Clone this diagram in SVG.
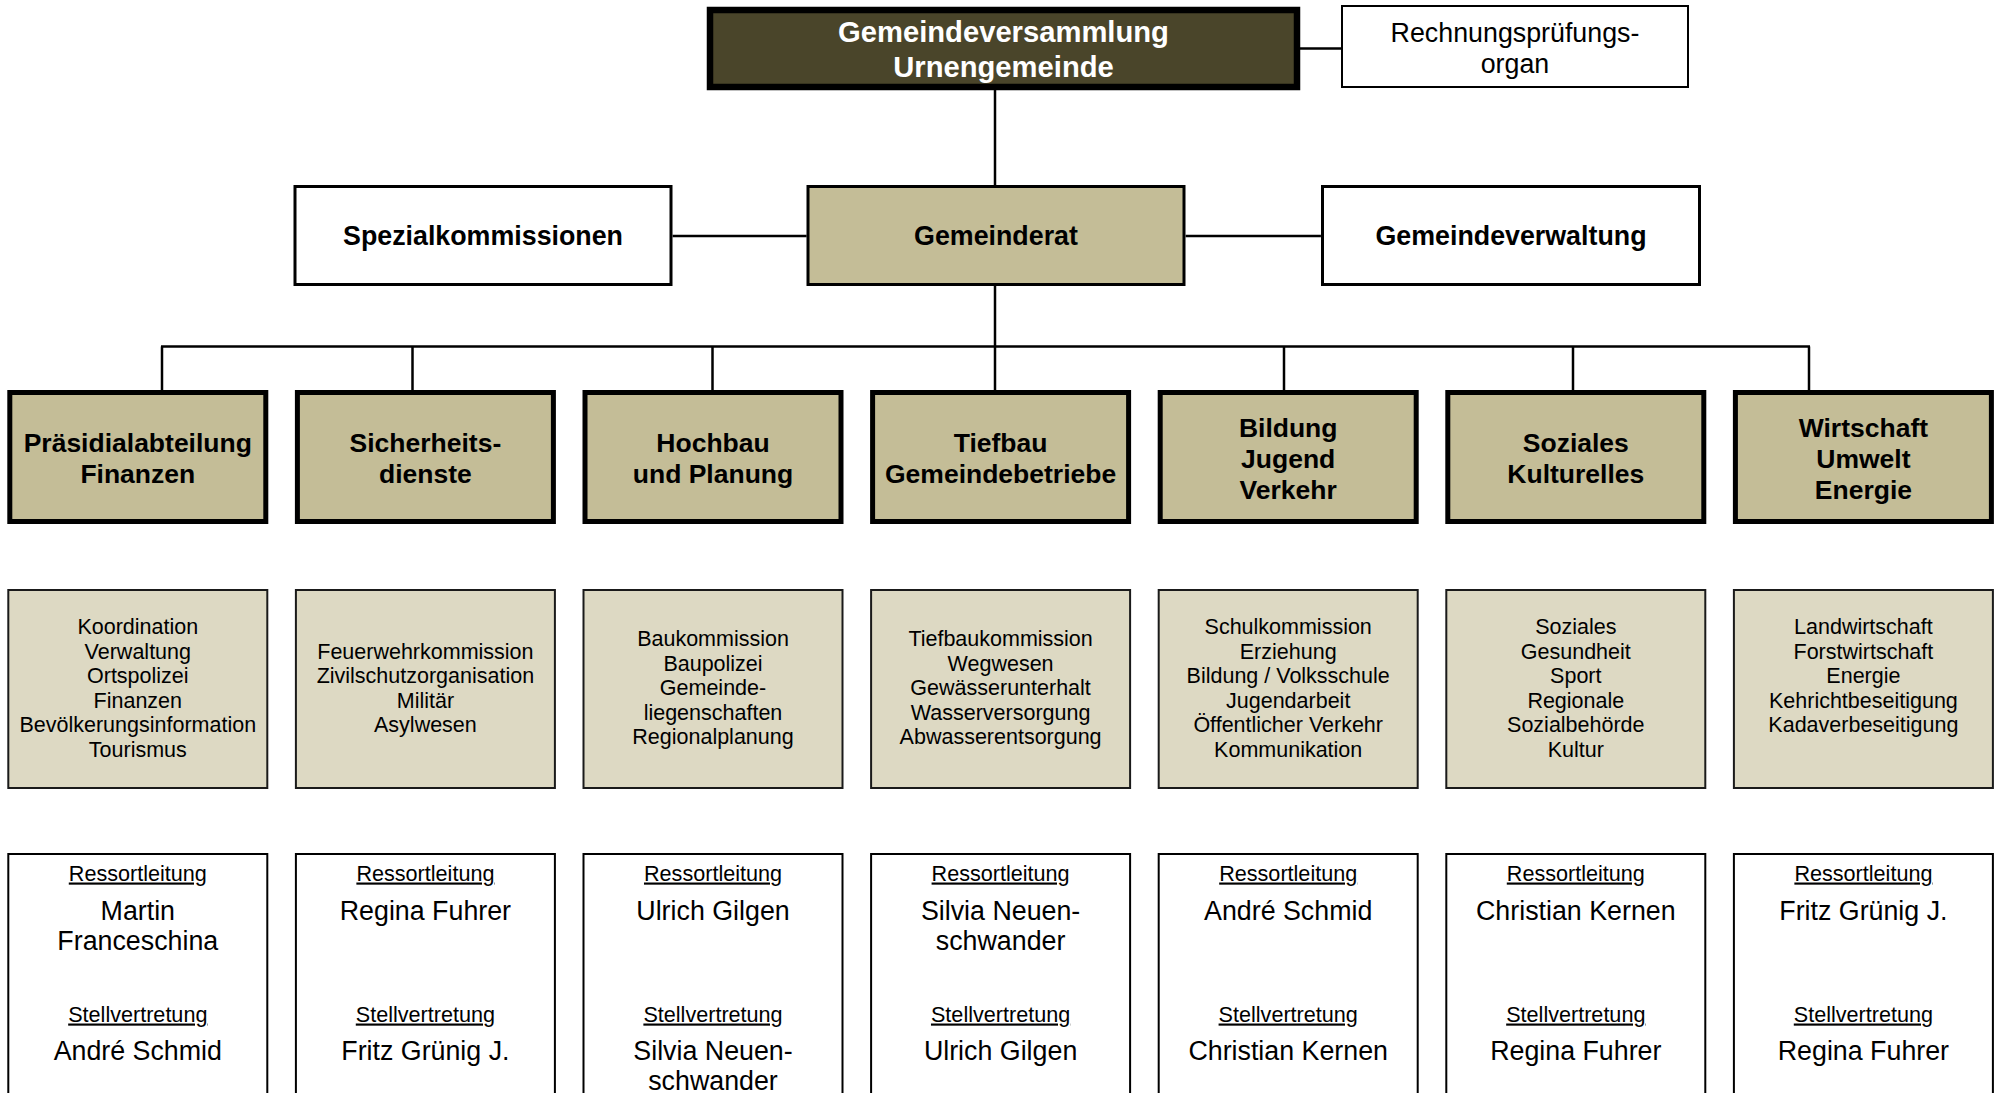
<svg xmlns="http://www.w3.org/2000/svg" width="2001" height="1093" viewBox="0 0 2001 1093">
<style>
text{font-family:"Liberation Sans",Arial,sans-serif;text-anchor:middle}
.top{fill:#4A452A;stroke:#000;stroke-width:6.5}
.wbox{fill:#fff;stroke:#000;stroke-width:3}
.gr{fill:#C4BD97;stroke:#000;stroke-width:3}
.dept{fill:#C4BD97;stroke:#000;stroke-width:5}
.desc{fill:#DDD9C3;stroke:#1a1a1a;stroke-width:2}
.res{fill:#fff;stroke:#000;stroke-width:2}
.thin{fill:#fff;stroke:#000;stroke-width:2}
.tt{font-size:29.2px;font-weight:bold;fill:#fff}
.h{font-size:26.8px;font-weight:bold;fill:#000}
.d{font-size:26.5px;font-weight:bold;fill:#000}
.s{font-size:21.5px;fill:#000}
.u{font-size:21.6px;fill:#000;text-decoration:underline}
.n{font-size:26.8px;fill:#000}
.r{font-size:26.8px;fill:#000}
.c{stroke:#000;stroke-width:2.5;fill:none}
</style>
<g id="connectors">
<line class="c" x1="1300" y1="48.5" x2="1341" y2="48.5"/>
<line class="c" x1="995" y1="90" x2="995" y2="185"/>
<line class="c" x1="672.6" y1="236" x2="806.6" y2="236"/>
<line class="c" x1="1185.6" y1="236" x2="1320.9" y2="236"/>
<line class="c" x1="995" y1="286" x2="995" y2="346.5"/>
<line class="c" x1="161" y1="346.5" x2="1810" y2="346.5"/>
<line class="c" x1="162" y1="346.5" x2="162" y2="390"/>
<line class="c" x1="412.5" y1="346.5" x2="412.5" y2="390"/>
<line class="c" x1="712.5" y1="346.5" x2="712.5" y2="390"/>
<line class="c" x1="995" y1="346.5" x2="995" y2="390"/>
<line class="c" x1="1284" y1="346.5" x2="1284" y2="390"/>
<line class="c" x1="1573" y1="346.5" x2="1573" y2="390"/>
<line class="c" x1="1809" y1="346.5" x2="1809" y2="390"/>
</g>
<g id="gemeindeversammlung">
<rect class="top" x="710" y="10" width="587" height="77"/>
<text class="tt" x="1003.5" y="42">Gemeindeversammlung</text>
<text class="tt" x="1003.5" y="76.5">Urnengemeinde</text>
</g>
<g id="rechnungspruefungsorgan">
<rect class="thin" x="1342" y="6" width="346" height="81"/>
<text class="r" x="1515" y="42">Rechnungsprüfungs-</text>
<text class="r" x="1515" y="73">organ</text>
</g>
<g id="spezialkommissionen">
<rect class="wbox" x="295" y="186.5" width="376" height="98"/>
<text class="h" x="483" y="245">Spezialkommissionen</text>
</g>
<g id="gemeinderat">
<rect class="gr" x="808" y="186.5" width="376" height="98"/>
<text class="h" x="996" y="245">Gemeinderat</text>
</g>
<g id="gemeindeverwaltung">
<rect class="wbox" x="1322.5" y="186.5" width="377" height="98"/>
<text class="h" x="1511" y="245">Gemeindeverwaltung</text>
</g>
<g id="dept1">
<rect class="dept" x="9.8" y="392.5" width="256" height="129"/>
<text class="d" x="137.8" y="452">Präsidialabteilung</text>
<text class="d" x="137.8" y="482.5">Finanzen</text>
</g>
<g id="dept2">
<rect class="dept" x="297.4" y="392.5" width="256" height="129"/>
<text class="d" x="425.4" y="452">Sicherheits-</text>
<text class="d" x="425.4" y="482.5">dienste</text>
</g>
<g id="dept3">
<rect class="dept" x="585" y="392.5" width="256" height="129"/>
<text class="d" x="713" y="452">Hochbau</text>
<text class="d" x="713" y="482.5">und Planung</text>
</g>
<g id="dept4">
<rect class="dept" x="872.6" y="392.5" width="256" height="129"/>
<text class="d" x="1000.6" y="452">Tiefbau</text>
<text class="d" x="1000.6" y="482.5">Gemeindebetriebe</text>
</g>
<g id="dept5">
<rect class="dept" x="1160.2" y="392.5" width="256" height="129"/>
<text class="d" x="1288.2" y="436.5">Bildung</text>
<text class="d" x="1288.2" y="467.5">Jugend</text>
<text class="d" x="1288.2" y="498.5">Verkehr</text>
</g>
<g id="dept6">
<rect class="dept" x="1447.8" y="392.5" width="256" height="129"/>
<text class="d" x="1575.8" y="452">Soziales</text>
<text class="d" x="1575.8" y="482.5">Kulturelles</text>
</g>
<g id="dept7">
<rect class="dept" x="1735.4" y="392.5" width="256" height="129"/>
<text class="d" x="1863.4" y="436.5">Wirtschaft</text>
<text class="d" x="1863.4" y="467.5">Umwelt</text>
<text class="d" x="1863.4" y="498.5">Energie</text>
</g>
<g id="desc1">
<rect class="desc" x="8.3" y="590" width="259" height="198"/>
<text class="s" x="137.8" y="634">Koordination</text>
<text class="s" x="137.8" y="658.5">Verwaltung</text>
<text class="s" x="137.8" y="683">Ortspolizei</text>
<text class="s" x="137.8" y="707.5">Finanzen</text>
<text class="s" x="137.8" y="732">Bevölkerungsinformation</text>
<text class="s" x="137.8" y="756.5">Tourismus</text>
</g>
<g id="desc2">
<rect class="desc" x="295.9" y="590" width="259" height="198"/>
<text class="s" x="425.4" y="658.5">Feuerwehrkommission</text>
<text class="s" x="425.4" y="683">Zivilschutzorganisation</text>
<text class="s" x="425.4" y="707.5">Militär</text>
<text class="s" x="425.4" y="732">Asylwesen</text>
</g>
<g id="desc3">
<rect class="desc" x="583.5" y="590" width="259" height="198"/>
<text class="s" x="713" y="646.3">Baukommission</text>
<text class="s" x="713" y="670.8">Baupolizei</text>
<text class="s" x="713" y="695.3">Gemeinde-</text>
<text class="s" x="713" y="719.8">liegenschaften</text>
<text class="s" x="713" y="744.3">Regionalplanung</text>
</g>
<g id="desc4">
<rect class="desc" x="871.1" y="590" width="259" height="198"/>
<text class="s" x="1000.6" y="646.3">Tiefbaukommission</text>
<text class="s" x="1000.6" y="670.8">Wegwesen</text>
<text class="s" x="1000.6" y="695.3">Gewässerunterhalt</text>
<text class="s" x="1000.6" y="719.8">Wasserversorgung</text>
<text class="s" x="1000.6" y="744.3">Abwasserentsorgung</text>
</g>
<g id="desc5">
<rect class="desc" x="1158.7" y="590" width="259" height="198"/>
<text class="s" x="1288.2" y="634">Schulkommission</text>
<text class="s" x="1288.2" y="658.5">Erziehung</text>
<text class="s" x="1288.2" y="683">Bildung / Volksschule</text>
<text class="s" x="1288.2" y="707.5">Jugendarbeit</text>
<text class="s" x="1288.2" y="732">Öffentlicher Verkehr</text>
<text class="s" x="1288.2" y="756.5">Kommunikation</text>
</g>
<g id="desc6">
<rect class="desc" x="1446.3" y="590" width="259" height="198"/>
<text class="s" x="1575.8" y="634">Soziales</text>
<text class="s" x="1575.8" y="658.5">Gesundheit</text>
<text class="s" x="1575.8" y="683">Sport</text>
<text class="s" x="1575.8" y="707.5">Regionale</text>
<text class="s" x="1575.8" y="732">Sozialbehörde</text>
<text class="s" x="1575.8" y="756.5">Kultur</text>
</g>
<g id="desc7">
<rect class="desc" x="1733.9" y="590" width="259" height="198"/>
<text class="s" x="1863.4" y="634">Landwirtschaft</text>
<text class="s" x="1863.4" y="658.5">Forstwirtschaft</text>
<text class="s" x="1863.4" y="683">Energie</text>
<text class="s" x="1863.4" y="707.5">Kehrichtbeseitigung</text>
<text class="s" x="1863.4" y="732">Kadaverbeseitigung</text>
</g>
<g id="ressort1">
<rect class="res" x="8.3" y="854" width="259" height="260"/>
<text class="u" x="137.8" y="880.5">Ressortleitung</text>
<text class="n" x="137.8" y="919.5">Martin</text>
<text class="n" x="137.8" y="949.5">Franceschina</text>
<text class="u" x="137.8" y="1021.5">Stellvertretung</text>
<text class="n" x="137.8" y="1059.5">André Schmid</text>
</g>
<g id="ressort2">
<rect class="res" x="295.9" y="854" width="259" height="260"/>
<text class="u" x="425.4" y="880.5">Ressortleitung</text>
<text class="n" x="425.4" y="919.5">Regina Fuhrer</text>
<text class="u" x="425.4" y="1021.5">Stellvertretung</text>
<text class="n" x="425.4" y="1059.5">Fritz Grünig J.</text>
</g>
<g id="ressort3">
<rect class="res" x="583.5" y="854" width="259" height="260"/>
<text class="u" x="713" y="880.5">Ressortleitung</text>
<text class="n" x="713" y="919.5">Ulrich Gilgen</text>
<text class="u" x="713" y="1021.5">Stellvertretung</text>
<text class="n" x="713" y="1059.5">Silvia Neuen-</text>
<text class="n" x="713" y="1089.5">schwander</text>
</g>
<g id="ressort4">
<rect class="res" x="871.1" y="854" width="259" height="260"/>
<text class="u" x="1000.6" y="880.5">Ressortleitung</text>
<text class="n" x="1000.6" y="919.5">Silvia Neuen-</text>
<text class="n" x="1000.6" y="949.5">schwander</text>
<text class="u" x="1000.6" y="1021.5">Stellvertretung</text>
<text class="n" x="1000.6" y="1059.5">Ulrich Gilgen</text>
</g>
<g id="ressort5">
<rect class="res" x="1158.7" y="854" width="259" height="260"/>
<text class="u" x="1288.2" y="880.5">Ressortleitung</text>
<text class="n" x="1288.2" y="919.5">André Schmid</text>
<text class="u" x="1288.2" y="1021.5">Stellvertretung</text>
<text class="n" x="1288.2" y="1059.5">Christian Kernen</text>
</g>
<g id="ressort6">
<rect class="res" x="1446.3" y="854" width="259" height="260"/>
<text class="u" x="1575.8" y="880.5">Ressortleitung</text>
<text class="n" x="1575.8" y="919.5">Christian Kernen</text>
<text class="u" x="1575.8" y="1021.5">Stellvertretung</text>
<text class="n" x="1575.8" y="1059.5">Regina Fuhrer</text>
</g>
<g id="ressort7">
<rect class="res" x="1733.9" y="854" width="259" height="260"/>
<text class="u" x="1863.4" y="880.5">Ressortleitung</text>
<text class="n" x="1863.4" y="919.5">Fritz Grünig J.</text>
<text class="u" x="1863.4" y="1021.5">Stellvertretung</text>
<text class="n" x="1863.4" y="1059.5">Regina Fuhrer</text>
</g>
</svg>
